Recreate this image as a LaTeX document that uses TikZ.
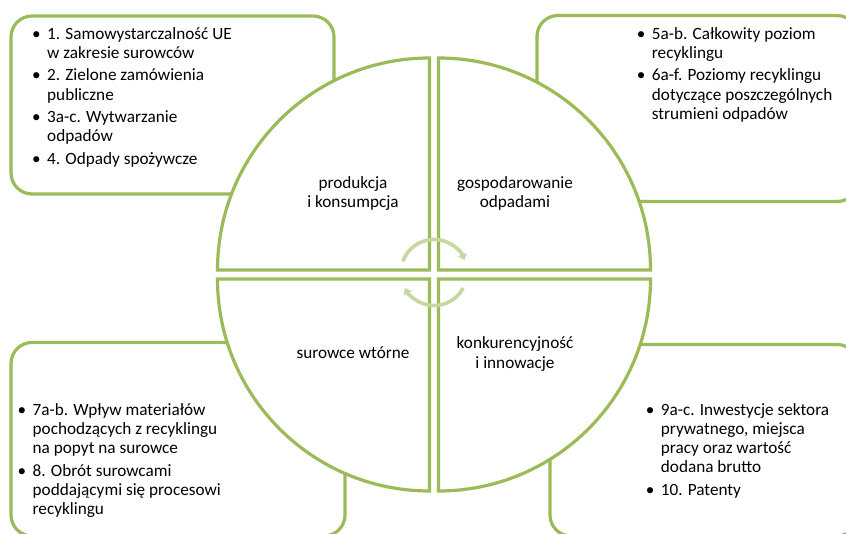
\documentclass[tikz,border=0pt]{standalone}
\usepackage{fontspec}
\setmainfont{Carlito}
\usetikzlibrary{arrows.meta}
\definecolor{grn}{RGB}{155,187,89}
\definecolor{lgrn}{RGB}{197,216,160}
\tikzset{
  outerbox/.style={draw=grn, line width=3.2pt, rounded corners=21pt},
  quadrant/.style={draw=grn, fill=white, line width=3.2pt},
  txt/.style={inner sep=0pt, font=\fontsize{17.2}{19.2}\selectfont, text=black},
  cyclearrow/.style={draw=lgrn, line width=3.6pt, -{Triangle[width=9pt,length=6pt]}},
}
\begin{document}
\begin{tikzpicture}[x=1pt,y=1pt]
\useasboundingbox (0,0) rectangle (846,533);
\clip (0,0) rectangle (846,533);
% outer boxes
\draw[outerbox] (11,339) rectangle (334,517);
\draw[outerbox] (537,331.5) rectangle (858,517.5);
\draw[outerbox] (11,-3) rectangle (345,190.5);
\draw[outerbox] (550,-3) rectangle (858,188.5);
% quadrants
\coordinate (tl) at (429.5,263);
\coordinate (tr) at (438.5,263);
\coordinate (bl) at (429.5,254);
\coordinate (br) at (438.5,254);
\draw[quadrant] (tl) -- ++(-212pt,0) arc[start angle=180,end angle=90,radius=212pt] -- cycle;
\draw[quadrant] (tr) -- ++(0,212pt) arc[start angle=90,end angle=0,radius=212pt] -- cycle;
\draw[quadrant] (br) -- ++(212pt,0) arc[start angle=0,end angle=-90,radius=212pt] -- cycle;
\draw[quadrant] (bl) -- ++(0,-212pt) arc[start angle=270,end angle=180,radius=212pt] -- cycle;
% cycle arrows
\coordinate (ac) at (434,260.5);
\draw[cyclearrow] (ac) ++(160:33pt) arc[start angle=160,end angle=22,radius=33pt];
\draw[cyclearrow] (ac) ++(-28:33pt) arc[start angle=-28,end angle=-152,radius=33pt];
% quadrant labels
\node[txt,anchor=base] (q1) at (353,344.5) {\begin{tabular}[t]{@{}c@{}}produkcja\\i konsumpcja\end{tabular}};
\node[txt,anchor=base] (q2) at (515,344.5) {\begin{tabular}[t]{@{}c@{}}gospodarowanie\\odpadami\end{tabular}};
\node[txt,anchor=base] (q3) at (353,174) {\begin{tabular}[t]{@{}c@{}}surowce wtórne\end{tabular}};
\node[txt,anchor=base] (q4) at (515,184) {\begin{tabular}[t]{@{}c@{}}konkurencyjność\\i innowacje\end{tabular}};
% box texts
\node[txt,anchor=base west] (b1) at (32,493.8) {\begin{tabular}[t]{@{}l@{}l@{}}
\makebox[15pt][l]{•} & 1. Samowystarczalność UE\\
 & w zakresie surowców\\[3.3pt]
\makebox[15pt][l]{•} & 2. Zielone zamówienia\\
 & publiczne\\[3.3pt]
\makebox[15pt][l]{•} & 3a-c. Wytwarzanie\\
 & odpadów\\[3.3pt]
\makebox[15pt][l]{•} & 4. Odpady spożywcze
\end{tabular}};
\node[txt,anchor=base west] (b2) at (636.7,493.8) {\begin{tabular}[t]{@{}l@{}l@{}}
\makebox[15pt][l]{•} & 5a-b. Całkowity poziom\\
 & recyklingu\\[3.3pt]
\makebox[15pt][l]{•} & 6a-f. Poziomy recyklingu\\
 & dotyczące poszczególnych\\
 & strumieni odpadów
\end{tabular}};
\node[txt,anchor=base west] (b3) at (17.5,117.8) {\begin{tabular}[t]{@{}l@{}l@{}}
\makebox[15pt][l]{•} & 7a-b. Wpływ materiałów\\
 & pochodzących z recyklingu\\
 & na popyt na surowce\\[3.3pt]
\makebox[15pt][l]{•} & 8. Obrót surowcami\\
 & poddającymi się procesowi\\
 & recyklingu
\end{tabular}};
\node[txt,anchor=base west] (b4) at (645.7,117.8) {\begin{tabular}[t]{@{}l@{}l@{}}
\makebox[15pt][l]{•} & 9a-c. Inwestycje sektora\\
 & prywatnego, miejsca\\
 & pracy oraz wartość\\
 & dodana brutto\\[3.3pt]
\makebox[15pt][l]{•} & 10. Patenty
\end{tabular}};
\end{tikzpicture}
\end{document}
